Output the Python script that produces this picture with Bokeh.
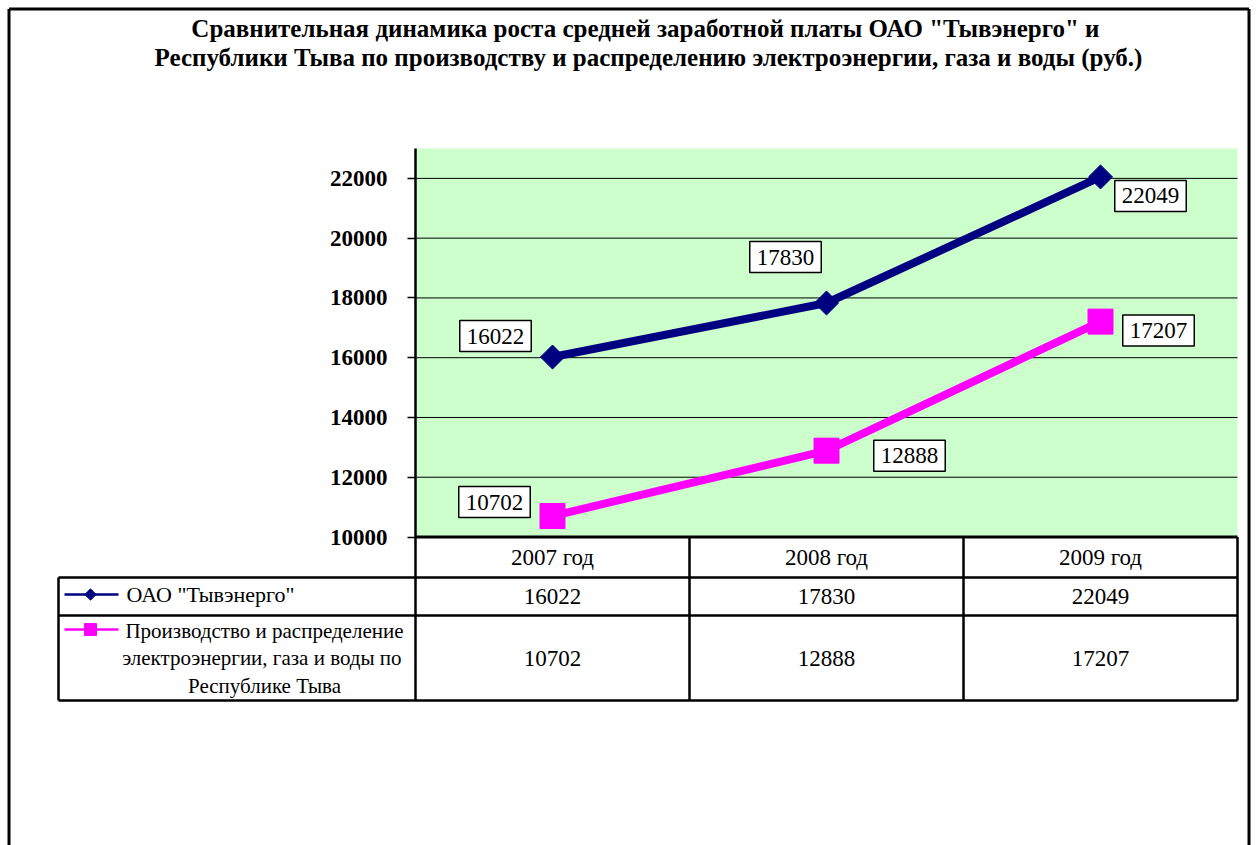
import math
from bokeh.plotting import figure
from bokeh.models import Range1d, LinearAxis, FixedTicker, Label
from bokeh.core.properties import value
from bokeh.embed import file_html
from bokeh.resources import INLINE

# ---------------- data ----------------
categories = ["2007 год", "2008 год", "2009 год"]
tyvaenergo = [16022, 17830, 22049]
republic = [10702, 12888, 17207]
series_names = ['ОАО "Тывэнерго"',
                "Производство и распределение\nэлектроэнергии,  газа и воды по\nРеспублике Тыва"]
y_ticks = [10000, 12000, 14000, 16000, 18000, 20000, 22000]
y_max = 23000
title_lines = ['Сравнительная динамика  роста средней заработной платы ОАО "Тывэнерго" и',
               'Республики Тыва по производству и распределению электроэнергии, газа и воды (руб.)']

# label offsets (screen px) for the data labels
off1 = [(-57, 21), (-41, 46), (50, -19)]
off2 = [(-58, 14), (83, -5), (58, -9)]

NAVY = "#000080"
MAGENTA = "#FF00FF"
GREEN = "#CCFFCC"
FONT = "Liberation Serif"

W, H = 1258, 845
ncat = len(categories)
xs = [i + 0.5 for i in range(ncat)]

# layout geometry (page pixels)
X0_PX, CAT_PX = 415, 274            # x = 0 of the value axis, width of a category
Y10_PX, PX_PER_UNIT = 536.5, 388.5 / (y_max - y_ticks[0])
def yval(py):                        # page y -> value scale
    return y_ticks[0] + (Y10_PX - py) / PX_PER_UNIT

# ---------------- figure ----------------
p = figure(width=W, height=H,
           x_range=Range1d(-X0_PX / CAT_PX, (W - X0_PX) / CAT_PX),
           y_range=Range1d(yval(H), yval(0)),
           output_backend="svg", toolbar_location=None,
           x_axis_location=None, y_axis_location=None, min_border=0)
# table / decoration coordinates: tx = page_x - 58, ty = 700 - page_y
p.extra_x_ranges = {"tbl": Range1d(-58, W - 58)}
p.extra_y_ranges = {"tbl": Range1d(700 - H, 700)}
p.outline_line_color = None
p.background_fill_color = "white"
p.border_fill_color = "white"
p.xgrid.visible = False
p.ygrid.visible = False

T = dict(x_range_name="tbl", y_range_name="tbl")

# outer frame (left, top, right)
p.segment(x0=[-49.5, -49.5, 1190.5], x1=[1190.5, -49.5, 1190.5],
          y0=[691.5, 691.5, 691.5], y1=[691.5, 700 - H, 700 - H],
          line_color="black", line_width=3, **T)

# title
p.text(x=[590, 590], y=[672, 643], text=title_lines, text_font=value(FONT),
       text_font_size="25px", text_font_style="bold", text_color="black",
       text_align="center", text_baseline="middle", **T)

# plot area background
p.quad(left=[0], right=[ncat], bottom=[y_ticks[0]], top=[y_max],
       fill_color=GREEN, line_color=None)

# gridlines
p.segment(x0=[0] * (len(y_ticks) - 1), x1=[ncat] * (len(y_ticks) - 1),
          y0=y_ticks[1:], y1=y_ticks[1:], line_color="black", line_width=1)

# y axis at x = 0
yaxis = LinearAxis(fixed_location=0, ticker=FixedTicker(ticks=y_ticks),
                   bounds=(yval(700), y_max))
yaxis.axis_line_width = 2.5
yaxis.axis_line_color = "black"
yaxis.major_tick_out = 8
yaxis.major_tick_in = 0
yaxis.major_tick_line_width = 1.5
yaxis.major_tick_line_color = "black"
yaxis.minor_tick_out = 0
yaxis.minor_tick_in = 0
yaxis.major_label_standoff = 20
yaxis.major_label_text_font = FONT
yaxis.major_label_text_font_size = "23px"
yaxis.major_label_text_font_style = "bold"
yaxis.major_label_text_color = "black"
p.add_layout(yaxis, "left")

# ---------------- table ----------------
p.segment(x0=[0, 0, 0], x1=[1179, 1179, 1179], y0=[123, 85, 0], y1=[123, 85, 0],
          line_color="black", line_width=2.5, **T)
p.segment(x0=[0], x1=[ncat], y0=[y_ticks[0]], y1=[y_ticks[0]],
          line_color="black", line_width=3)
p.segment(x0=[0], x1=[0], y0=[0], y1=[123], line_color="black", line_width=2.5, **T)
p.segment(x0=list(range(1, ncat + 1)), x1=list(range(1, ncat + 1)),
          y0=[yval(700)] * ncat, y1=[y_ticks[0]] * ncat, line_color="black", line_width=2.5)

cell_font = dict(text_font=value(FONT), text_font_size="23px", text_color="black",
                 text_align="center", text_baseline="middle")
p.text(x=xs, y=[143] * ncat, text=categories, y_range_name="tbl", **cell_font)
p.text(x=xs, y=[104] * ncat, text=[str(v) for v in tyvaenergo], y_range_name="tbl", **cell_font)
p.text(x=xs, y=[42] * ncat, text=[str(v) for v in republic], y_range_name="tbl", **cell_font)

# legend column
p.text(x=[68], y=[106], text=[series_names[0]], text_font=value(FONT), text_font_size="22px",
       text_color="black", text_align="left", text_baseline="middle", **T)
p.text(x=[206], y=[42], text=[series_names[1]], text_font=value(FONT), text_font_size="21px",
       text_color="black", text_align="center", text_baseline="middle",
       text_line_height=1.15, **T)
p.segment(x0=[6], x1=[60], y0=[106], y1=[106], line_color=NAVY, line_width=2.5, **T)
p.scatter(x=[32], y=[106], marker="square", angle=math.pi / 4, size=8, color=NAVY, **T)
p.segment(x0=[6], x1=[60], y0=[71], y1=[71], line_color=MAGENTA, line_width=2.5, **T)
p.scatter(x=[32], y=[71], marker="square", size=12, color=MAGENTA, **T)

# ---------------- series ----------------
p.line(x=xs, y=tyvaenergo, line_color=NAVY, line_width=8)
p.scatter(x=xs, y=tyvaenergo, marker="square", angle=math.pi / 4, size=17, color=NAVY)
p.line(x=xs, y=republic, line_color=MAGENTA, line_width=8)
p.scatter(x=xs, y=republic, marker="square", size=25, color=MAGENTA)

# data labels
for vals, offs in ((tyvaenergo, off1), (republic, off2)):
    for x, v, (dx, dy) in zip(xs, vals, offs):
        p.add_layout(Label(x=x, y=v, x_offset=dx, y_offset=dy, text=str(v),
                           text_font=FONT, text_font_size="23px", text_color="black",
                           text_align="center", text_baseline="middle",
                           background_fill_color="white",
                           border_line_color="black", border_line_width=1.5,
                           padding=dict(left=7, right=7, top=8, bottom=8)))

open("out.html", "w").write(file_html(p, INLINE))
